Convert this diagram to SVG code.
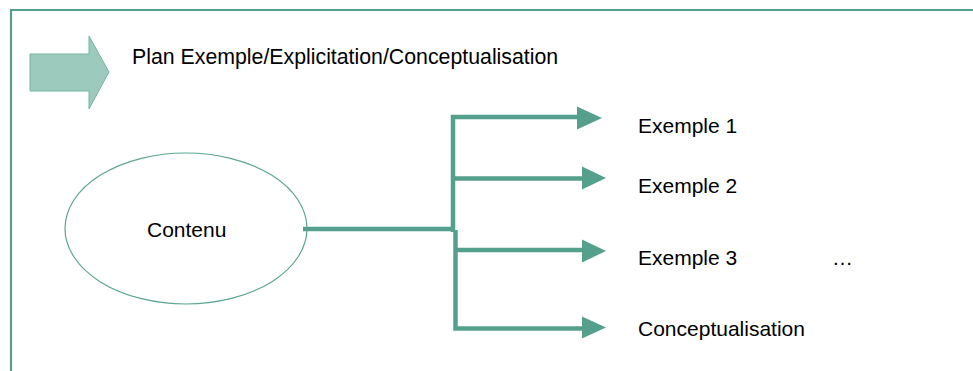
<svg xmlns="http://www.w3.org/2000/svg" width="973" height="371" viewBox="0 0 973 371">
  <style>
    .lbl { font-family: "Liberation Sans", Arial, sans-serif; fill: #000; font-size: 21px; }
    .frame { fill: none; stroke: #55a08d; stroke-width: 2.2; }
    .link { fill: none; stroke: #55a08d; stroke-width: 4.5; stroke-linecap: butt; }
    .head { fill: #55a08d; }
  </style>
  <rect width="973" height="371" fill="#ffffff"/>

  <!-- slide frame: top and left rules -->
  <path class="frame" d="M11 371 V10 H973"/>

  <!-- title with block arrow -->
  <g id="title">
    <polygon points="30,54 89,54 89,36 109,72 89,109 89,91 30,91" fill="#9ccbbd" stroke="#74b6a3" stroke-width="1"/>
    <text class="lbl" x="132" y="64" style="font-size:21.3px">Plan Exemple/Explicitation/Conceptualisation</text>
  </g>

  <!-- central topic -->
  <g id="contenu">
    <ellipse cx="186" cy="228.5" rx="121" ry="75.5" fill="#ffffff" stroke="#5ba592" stroke-width="1.2"/>
    <text class="lbl" x="147" y="237">Contenu</text>
  </g>

  <!-- connectors -->
  <g id="connectors">
    <path class="link" d="M303 229 H455"/>
    <path class="link" d="M453 232 V117 H580"/>
    <path class="link" d="M455.5 230 V328.5 H584"/>
    <path class="link" d="M455 178.5 H584"/>
    <path class="link" d="M455 250 H584"/>
    <polygon class="head" points="577,106.5 602,118 577,129.5"/>
    <polygon class="head" points="582,166.5 606,178 582,189.5"/>
    <polygon class="head" points="582,239.5 606,251 582,262.5"/>
    <polygon class="head" points="582,316.5 606,327.5 582,338.5"/>
  </g>

  <!-- branch labels -->
  <g id="exemple1"><text class="lbl" x="638" y="133">Exemple 1</text></g>
  <g id="exemple2"><text class="lbl" x="638" y="193">Exemple 2</text></g>
  <g id="exemple3"><text class="lbl" x="638" y="265">Exemple 3</text></g>
  <g id="suite"><text class="lbl" x="832" y="265">…</text></g>
  <g id="conceptualisation"><text class="lbl" x="638" y="336">Conceptualisation</text></g>
</svg>
